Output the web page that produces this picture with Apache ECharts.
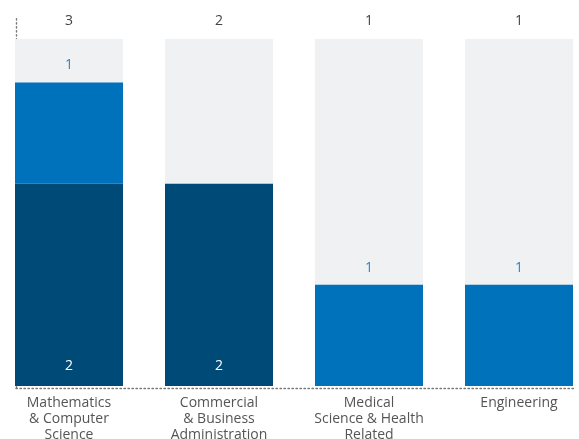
<!DOCTYPE html>
<html>
<head>
<meta charset="utf-8">
<script src="https://cdn.jsdelivr.net/npm/echarts@6/dist/echarts.min.js"></script>
<style>html,body{margin:0;padding:0;background:#fff;}#c{width:579px;height:439px;}</style>
</head>
<body>
<div id="c"></div>
<script>
var categories = ['Mathematics\n& Computer\nScience', 'Commercial\n& Business\nAdministration', 'Medical\nScience & Health\nRelated', 'Engineering'];
var darkValues = [2, 2, 0, 0];
var blueValues = [1, 0, 1, 1];
var totals = darkValues.map(function (v, i) { return String(v + blueValues[i]); });

var chart = echarts.init(document.getElementById('c'), null, {renderer: 'canvas'});
var font = '"Open Sans", sans-serif';
var dotted = {color: '#777777', width: 1.4, type: [1.4, 2.6]};
chart.setOption({
  animation: false,
  grid: [
    {left: -6, right: -15, top: 39, bottom: 53, outerBoundsMode: 'none', containLabel: false},
    {left: 16, right: 4, top: 18, bottom: 51, outerBoundsMode: 'none', containLabel: false}
  ],
  xAxis: [
    {gridIndex: 0, type: 'category', data: categories, position: 'bottom',
     axisLine: {show: false}, axisTick: {show: false},
     axisLabel: {interval: 0, color: '#555', fontFamily: font, fontSize: 14, lineHeight: 16, margin: 9}},
    {gridIndex: 0, type: 'category', data: totals, position: 'top',
     axisLine: {show: false}, axisTick: {show: false},
     axisLabel: {interval: 0, color: '#444', fontFamily: font, fontSize: 14, margin: 11}},
    {gridIndex: 1, type: 'category', data: categories,
     axisLine: {show: true, lineStyle: dotted}, axisTick: {show: false}, axisLabel: {show: false}}
  ],
  yAxis: [
    {gridIndex: 0, type: 'value', min: 0, max: 3.43, show: false, splitLine: {show: false}},
    {gridIndex: 1, type: 'value', min: 0, max: 1,
     axisLine: {show: true, lineStyle: dotted}, axisTick: {show: false}, axisLabel: {show: false}, splitLine: {show: false}}
  ],
  series: [
    {type: 'bar', xAxisIndex: 0, yAxisIndex: 0, stack: 's', data: darkValues, barWidth: 108,
     showBackground: true, backgroundStyle: {color: '#f0f1f3'},
     itemStyle: {color: '#004a77'},
     label: {show: true, position: 'insideBottom', distance: 13, color: '#fff', fontFamily: font, fontSize: 14,
             formatter: function (p) { return p.value ? p.value : ''; }}},
    {type: 'bar', xAxisIndex: 0, yAxisIndex: 0, stack: 's', data: blueValues, barWidth: 108,
     itemStyle: {color: '#0071bb'},
     label: {show: true, position: 'top', distance: 10, color: '#2f83cc', fontFamily: font, fontSize: 14,
             formatter: function (p) { return p.value ? p.value : ''; }}}
  ]
});
</script>
</body>
</html>
